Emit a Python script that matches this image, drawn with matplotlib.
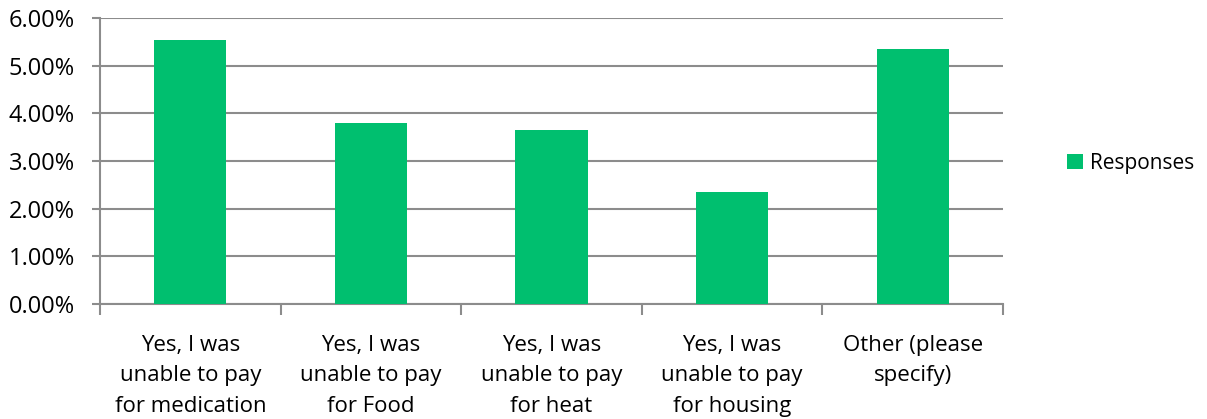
import matplotlib.pyplot as plt
import numpy as np
from matplotlib.ticker import FuncFormatter

categories = ["Yes, I was\nunable to pay\nfor medication",
              "Yes, I was\nunable to pay\nfor Food",
              "Yes, I was\nunable to pay\nfor heat",
              "Yes, I was\nunable to pay\nfor housing",
              "Other (please\nspecify)"]
responses = [5.54, 3.80, 3.65, 2.36, 5.34]

plt.rcParams['font.family'] = ['Open Sans', 'DejaVu Sans']
grey = '#8c8c8c'
green = '#00bf6f'

fig = plt.figure(figsize=(12.07, 4.19), dpi=100)
ax = fig.add_axes([0.0829, 0.2745, 0.7481, 0.6825])

x = np.arange(len(categories))
ax.bar(x, responses, width=0.4, color=green, label='Responses', zorder=3)

ax.set_xlim(-0.5, len(categories) - 0.5)
ax.set_ylim(0, 6)
ax.set_yticks(np.arange(0, 7, 1))
ax.yaxis.set_major_formatter(FuncFormatter(lambda v, p: f"{v:.2f}%"))
ax.grid(axis='y', color=grey, lw=1.5, zorder=0)

# category labels centered, tick marks between categories
ax.set_xticks(x)
ax.set_xticklabels(categories, fontsize=16, linespacing=1.6)
ax.tick_params(axis='x', length=0, pad=22)
ax.set_xticks(np.arange(-0.5, len(categories)), minor=True)
ax.tick_params(axis='x', which='minor', length=8, width=1.5, color=grey)
ax.tick_params(axis='y', length=6, width=1.5, color=grey, labelsize=17, pad=12)

for s in ['top', 'right']:
    ax.spines[s].set_visible(False)
for s in ['left', 'bottom']:
    ax.spines[s].set_color(grey)
    ax.spines[s].set_linewidth(1.5)

fig.legend(loc='center left', bbox_to_anchor=(0.884, 0.61), frameon=False,
           fontsize=15, handlelength=0.75, handleheight=0.75, handletextpad=0.35,
           borderpad=0, borderaxespad=0)

fig.savefig('out.png', dpi=100)
